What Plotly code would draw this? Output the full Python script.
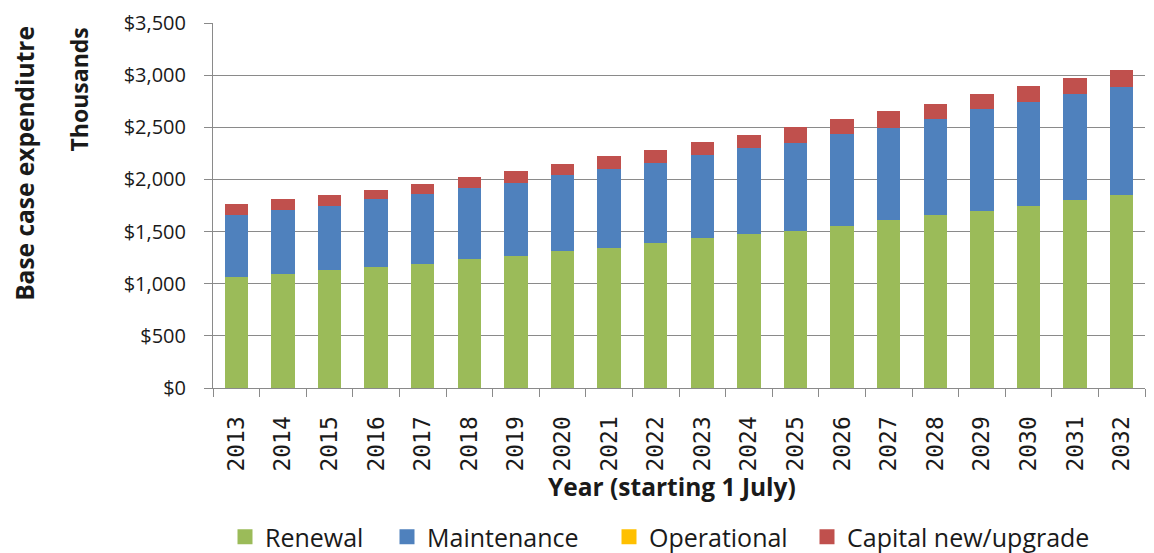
import plotly.graph_objects as go

years = [str(y) for y in range(2013, 2033)]

# Expenditure by category, $ thousands
renewal = [1064, 1095, 1127, 1159, 1187, 1235, 1262, 1310, 1342, 1386,
           1434, 1478, 1510, 1552, 1608, 1655, 1700, 1744, 1807, 1848]
maintenance = [596, 610, 622, 651, 670, 680, 708, 731, 756, 773,
               797, 823, 842, 888, 889, 921, 971, 1000, 1013, 1035]
operational = [0] * 20
capital = [105, 105, 105, 89, 102, 104, 108, 105, 124, 120,
           124, 127, 148, 136, 155, 152, 149, 149, 149, 162]

series = [
    ("Renewal", renewal, "#9BBB59"),
    ("Maintenance", maintenance, "#4F81BD"),
    ("Operational", operational, "#FFC000"),
    ("Capital new/upgrade", capital, "#C0504D"),
]

FONT = "'Open Sans', Lato, sans-serif"
INK = "#1a1a1a"
GRID = "#8a8a8a"

# plot area in pixels (used to place the free-standing labels)
L, R, T, B = 213, 9, 20, 165
W, H = 1154, 553
PW, PH = W - L - R, H - T - B

# legend text start positions (px) for each entry
legend_text_x = [263, 425, 647, 845]

fig = go.Figure()
for i, (name, vals, color) in enumerate(series):
    lg = "legend" if i == 0 else f"legend{i + 1}"
    fig.add_trace(go.Bar(x=years, y=vals, name=name, marker_color=color,
                         marker_line_width=0, showlegend=False))
    # legend swatch
    fig.add_trace(go.Scatter(x=[None], y=[None], mode="markers", name=name,
                             marker=dict(symbol="square", size=15, color=color),
                             legend=lg, showlegend=True))

layout_legends = {}
for i, tx in enumerate(legend_text_x):
    key = "legend" if i == 0 else f"legend{i + 1}"
    layout_legends[key] = dict(
        orientation="h", x=(tx - 38 - L) / PW, xanchor="left",
        yref="container", y=1 - 537 / H, yanchor="middle",
        font=dict(size=25, family=FONT, color=INK),
        bgcolor="rgba(0,0,0,0)", borderwidth=0, itemsizing="trace",
    )

fig.update_layout(
    barmode="stack",
    bargap=0.5,
    width=W, height=H,
    margin=dict(l=L, r=R, t=T, b=B),
    paper_bgcolor="white", plot_bgcolor="white",
    font=dict(family=FONT, color=INK, size=19),
    showlegend=True,
    **layout_legends,
)

fig.update_yaxes(
    range=[0, 3500], dtick=500, tickprefix="$", tickformat=",",
    showgrid=True, gridcolor=GRID, gridwidth=1,
    showline=True, linecolor=GRID, linewidth=1,
    ticks="outside", ticklen=8, tickcolor=GRID,
    ticklabelstandoff=14,
    tickfont=dict(size=20, family=FONT, color=INK),
    zeroline=False,
)
fig.update_xaxes(
    type="category", tickangle=-90,
    showline=True, linecolor=GRID, linewidth=1,
    ticks="outside", ticklen=8, tickcolor=GRID, tickson="boundaries",
    ticklabelstandoff=18,
    tickfont=dict(size=23, family="'DejaVu Sans Mono', monospace", color=INK),
    showgrid=False,
)

fig.add_annotation(text="<b>Base case expendiutre</b>", textangle=-90,
                   xref="paper", yref="paper", x=(25 - L) / PW, y=(H - B - 162) / PH,
                   showarrow=False, font=dict(size=24.5, family=FONT, color=INK),
                   xanchor="center", yanchor="middle")
fig.add_annotation(text="<b>Thousands</b>", textangle=-90,
                   xref="paper", yref="paper", x=(79 - L) / PW, y=(H - B - 87) / PH,
                   showarrow=False, font=dict(size=23, family=FONT, color=INK),
                   xanchor="center", yanchor="middle")
fig.add_annotation(text="<b>Year (starting 1 July)</b>",
                   xref="paper", yref="paper", x=(672 - L) / PW, y=(H - B - 487) / PH,
                   showarrow=False, font=dict(size=24.5, family=FONT, color=INK),
                   xanchor="center", yanchor="middle")

fig.write_html("out.html")
